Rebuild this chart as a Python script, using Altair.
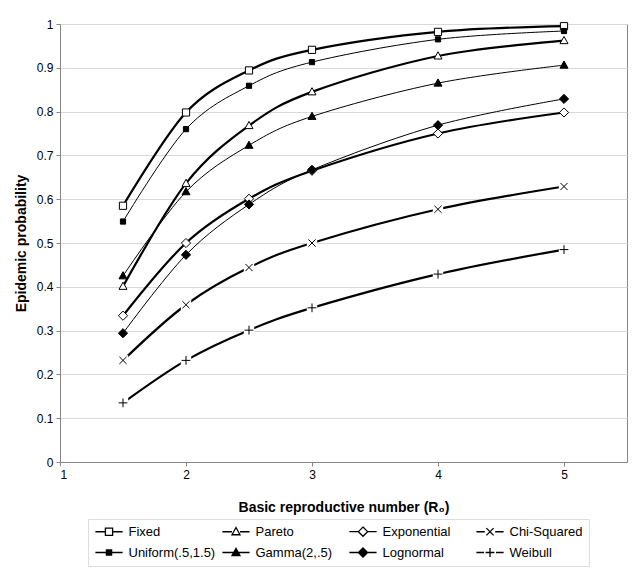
import altair as alt
import pandas as pd

# ---- data ----
r0_values = [1.5, 2, 2.5, 3, 4, 5]
series_names = ["Fixed", "Pareto", "Exponential", "Chi-Squared",
                "Uniform(.5,1.5)", "Gamma(2,.5)", "Lognormal", "Weibull"]
thick_series = ["Fixed", "Pareto", "Exponential", "Chi-Squared", "Weibull"]
thin_series = ["Uniform(.5,1.5)", "Gamma(2,.5)", "Lognormal"]
fixed = [0.585, 0.798, 0.894, 0.941, 0.982, 0.995]
uniform = [0.549, 0.760, 0.859, 0.913, 0.965, 0.984]
pareto = [0.401, 0.636, 0.768, 0.845, 0.927, 0.962]
gamma = [0.425, 0.617, 0.723, 0.789, 0.865, 0.906]
exponential = [0.334, 0.500, 0.601, 0.665, 0.750, 0.798]
lognormal = [0.294, 0.473, 0.588, 0.667, 0.769, 0.829]
chi_squared = [0.232, 0.359, 0.444, 0.500, 0.577, 0.629]
weibull = [0.135, 0.232, 0.301, 0.352, 0.429, 0.485]
y_ticks = [0, 0.1, 0.2, 0.3, 0.4, 0.5, 0.6, 0.7, 0.8, 0.9, 1]
x_ticks = [1, 2, 3, 4, 5]

values_by_series = {
    "Fixed": fixed, "Pareto": pareto, "Exponential": exponential,
    "Chi-Squared": chi_squared, "Uniform(.5,1.5)": uniform,
    "Gamma(2,.5)": gamma, "Lognormal": lognormal, "Weibull": weibull,
}

rows = []
for name in series_names:
    for xv, yv in zip(r0_values, values_by_series[name]):
        rows.append({"series": name, "R0": xv, "p": yv})
df = pd.DataFrame(rows)

# ---- marker styles (SVG paths in symbol units) ----
sq_open = "M-0.9,-0.9H0.9V0.9H-0.9Z"
sq_small = "M-0.65,-0.65H0.65V0.65H-0.65Z"
tri = "M0,-1.05L1,0.75H-1Z"
dia = "M0,-1.15L1.15,0L0,1.15L-1.15,0Z"
xmark = "M-0.9,-0.9L0.9,0.9M-0.9,0.9L0.9,-0.9"
plus = "M-1.1,0H1.1M0,-1.1V1.1"
marker_paths = [sq_open, tri, dia, xmark, sq_small, tri, dia, plus]
marker_fills = ["white", "white", "white", "white", "black", "black", "black", "white"]


def hatch(halfwidth, y0, y1, step=0.18):
    parts = []
    y = y0
    while y <= y1 + 1e-9:
        w = halfwidth(y)
        if w > 0.02:
            parts.append(f"M{-w:.3f},{y:.3f}H{w:.3f}")
        y += step
    return "".join(parts)


sq_solid = sq_small + hatch(lambda y: 0.65, -0.5, 0.5)
tri_solid = tri + hatch(lambda y: (y + 1.05) / 1.8 * 0.95, -0.85, 0.7)
dia_solid = dia + hatch(lambda y: 1.1 - abs(y), -0.95, 0.95)

legend_paths = ["M-3.4,0H-0.9M0.9,0H3.4" + sq_open,
                "M-3.4,0H-1M1,0H3.4" + tri,
                "M-3.4,0H-1.15M1.15,0H3.4" + dia,
                "M-3.4,0H-1.3M1.3,0H3.4" + xmark,
                "M-3.4,0H3.4" + sq_solid,
                "M-3.4,0H-0.5M0.5,0H3.4" + tri_solid,
                "M-3.4,0H3.4" + dia_solid,
                "M-3.4,0H-1.5M1.5,0H3.4" + plus]

font = "Liberation Sans"

x_enc = alt.X("R0:Q", scale=alt.Scale(domain=[1, 5.5], nice=False),
              axis=alt.Axis(values=x_ticks, format="d", grid=False,
                            title="Basic reproductive number (R₀)",
                            titleFontSize=14, titleFontWeight="bold",
                            titlePadding=20, labelPadding=3, tickSize=4))
y_enc = alt.Y("p:Q", scale=alt.Scale(domain=[0, 1], nice=False),
              axis=alt.Axis(values=y_ticks, format="~g", grid=True,
                            title="Epidemic probability",
                            titleFontSize=14, titleFontWeight="bold",
                            titlePadding=8, labelPadding=3, tickSize=4))

base = alt.Chart(df)

thick_lines = base.transform_filter(
    alt.FieldOneOfPredicate(field="series", oneOf=thick_series)
).mark_line(interpolate="cardinal", color="black", strokeWidth=2.2).encode(
    x=x_enc, y=y_enc, detail="series:N")

thin_lines = base.transform_filter(
    alt.FieldOneOfPredicate(field="series", oneOf=thin_series)
).mark_line(interpolate="cardinal", color="black", strokeWidth=1).encode(
    x="R0:Q", y="p:Q", detail="series:N")

gaps = base.transform_filter(
    alt.FieldOneOfPredicate(field="series", oneOf=["Chi-Squared", "Weibull"])
).mark_point(filled=True, color="white", opacity=1, shape="M-1.3,-1.3H1.3V1.3H-1.3Z", size=64).encode(
    x="R0:Q", y="p:Q")

points = base.mark_point(stroke="black", strokeWidth=1, opacity=1, size=64).encode(
    x="R0:Q", y="p:Q",
    shape=alt.Shape("series:N", scale=alt.Scale(domain=series_names, range=marker_paths), legend=None),
    fill=alt.Fill("series:N", scale=alt.Scale(domain=series_names, range=marker_fills), legend=None),
)

line_legend = alt.Legend(title=None, orient="none", legendX=28, legendY=495, direction="horizontal",
                         columns=4, gridAlign="all", columnPadding=3, rowPadding=6,
                         symbolSize=64, symbolOffset=8.5, labelOffset=13, symbolOpacity=1,
                         symbolStrokeColor="black", symbolStrokeWidth=1.3,
                         symbolFillColor="white",
                         labelFont=font, labelFontSize=13, labelColor="black",
                         strokeColor="#dddddd", fillColor="white", padding=6)

legend_layer = base.transform_filter("false").mark_point(stroke="black", opacity=1, size=64).encode(
    x="R0:Q", y="p:Q",
    shape=alt.Shape("series:N", scale=alt.Scale(domain=series_names, range=legend_paths),
                    legend=line_legend),
)

chart = alt.layer(thick_lines, thin_lines, gaps, points, legend_layer).resolve_scale(
    shape="independent", fill="independent"
).properties(
    width=567, height=438,
    autosize=alt.AutoSizeParams(type="none"),
    padding={"left": 52, "top": 16, "right": 5, "bottom": 105},
    background="white",
).configure_view(
    stroke="#868686", strokeWidth=1
).configure_axis(
    labelFont=font, labelFontSize=12, labelColor="black",
    titleFont=font, titleColor="black",
    domainColor="#868686", tickColor="#868686", gridColor="#d9d9d9",
)

chart.save("out.html", embed_options={"renderer": "svg", "actions": False})
